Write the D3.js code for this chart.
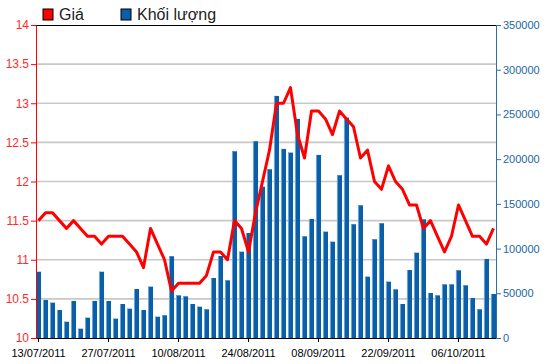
<!DOCTYPE html>
<html>
<head>
<meta charset="utf-8">
<script src="https://cdn.jsdelivr.net/npm/d3@7"></script>
<style>
  body { margin: 0; background: #fff; }
  svg { display: block; font-family: Arial, "Liberation Sans", sans-serif; }
</style>
</head>
<body>
<svg id="chart" width="550" height="364"></svg>
<script>
// ── data ─────────────────────────────────────────────
const dates = [
  "13/07/2011","14/07/2011","15/07/2011","18/07/2011","19/07/2011","20/07/2011","21/07/2011","22/07/2011","25/07/2011","26/07/2011",
  "27/07/2011","28/07/2011","29/07/2011","01/08/2011","02/08/2011","03/08/2011","04/08/2011","05/08/2011","08/08/2011","09/08/2011",
  "10/08/2011","11/08/2011","12/08/2011","15/08/2011","16/08/2011","17/08/2011","18/08/2011","19/08/2011","22/08/2011","23/08/2011",
  "24/08/2011","25/08/2011","26/08/2011","29/08/2011","30/08/2011","31/08/2011","01/09/2011","05/09/2011","06/09/2011","07/09/2011",
  "08/09/2011","09/09/2011","12/09/2011","13/09/2011","14/09/2011","15/09/2011","16/09/2011","19/09/2011","20/09/2011","21/09/2011",
  "22/09/2011","23/09/2011","26/09/2011","27/09/2011","28/09/2011","29/09/2011","30/09/2011","03/10/2011","04/10/2011","05/10/2011",
  "06/10/2011","07/10/2011","10/10/2011","11/10/2011","12/10/2011","13/10/2011"
];
const price = [
  11.5, 11.6, 11.6, 11.5, 11.4, 11.5, 11.4, 11.3, 11.3, 11.2,
  11.3, 11.3, 11.3, 11.2, 11.1, 10.9, 11.4, 11.2, 11.0, 10.6,
  10.7, 10.7, 10.7, 10.7, 10.8, 11.1, 11.1, 11.0, 11.5, 11.4,
  11.1, 11.6, 12.0, 12.4, 13.0, 13.0, 13.2, 12.6, 12.3, 12.9,
  12.9, 12.8, 12.6, 12.9, 12.8, 12.7, 12.3, 12.4, 12.0, 11.9,
  12.2, 12.0, 11.9, 11.7, 11.7, 11.4, 11.5, 11.3, 11.1, 11.3,
  11.7, 11.5, 11.3, 11.3, 11.2, 11.4
];
const volume = [
  74100, 42500, 39500, 31300, 18200, 41400, 10400, 22700, 41400, 74100,
  41400, 21600, 38000, 32800, 54800, 31300, 57400, 23800, 25400, 91400,
  47700, 46600, 38000, 35000, 32100, 67100, 91700, 64500, 208800, 96500,
  117400, 220000, 169200, 188700, 270700, 211400, 207300, 245000, 113700, 133100,
  204700, 118900, 107700, 182000, 246400, 127200, 148400, 68600, 110400, 128300,
  63000, 54400, 38000, 76000, 95400, 132700, 50300, 47700, 60000, 60000,
  75700, 58900, 44700, 32100, 88400, 49200
];
const xTickLabels = ["13/07/2011","27/07/2011","10/08/2011","24/08/2011","08/09/2011","22/09/2011","06/10/2011"];
const priceTicks  = [10, 10.5, 11, 11.5, 12, 12.5, 13, 13.5, 14];
const volumeTicks = [0, 50000, 100000, 150000, 200000, 250000, 300000, 350000];
const legendItems = [
  { label: "Giá",        color: "#ff0000" },
  { label: "Khối lượng", color: "#0a5fa8" }
];

// ── layout ───────────────────────────────────────────
const L = 36, R = 496, T = 25, B = 338;
const RED = "#ff0000", BLUE = "#0a5fa8", AXIS_BLUE = "#2f6fa8";
const FONT = "Arial, 'Liberation Sans', sans-serif";

const svg = d3.select("#chart");

const x  = d3.scaleBand().domain(dates).range([L, R]).paddingInner(0.28);
const yP = d3.scaleLinear().domain([10, 14]).range([B, T]);
const yV = d3.scaleLinear().domain([0, 350000]).range([B, T]);

// gridlines
svg.append("g").selectAll("line")
  .data(priceTicks.filter(d => d > 10 && d < 14))
  .join("line")
  .attr("x1", L).attr("x2", R)
  .attr("y1", d => yP(d)).attr("y2", d => yP(d))
  .attr("stroke", "#c8c8c8").attr("stroke-width", 1.6);

// top border
svg.append("line").attr("x1", L).attr("x2", R).attr("y1", T + 0.5).attr("y2", T + 0.5)
  .attr("stroke", "#000").attr("stroke-width", 1);

// volume bars
const bars = svg.append("g");
bars.selectAll("rect.bar")
  .data(volume)
  .join("rect")
  .attr("class", "bar")
  .attr("x", (d, i) => x(dates[i]))
  .attr("width", x.bandwidth())
  .attr("y", d => yV(d))
  .attr("height", d => B - yV(d))
  .attr("fill", BLUE);
// light edge on each bar
bars.selectAll("line.edge")
  .data(volume)
  .join("line")
  .attr("class", "edge")
  .attr("x1", (d, i) => x(dates[i]) + 0.5).attr("x2", (d, i) => x(dates[i]) + 0.5)
  .attr("y1", d => yV(d)).attr("y2", B)
  .attr("stroke", "#6ea6dc").attr("stroke-width", 1);

// price line
const line = d3.line()
  .x((d, i) => x(dates[i]) + x.bandwidth() / 2)
  .y(d => yP(d));
svg.append("path")
  .datum(price)
  .attr("d", line)
  .attr("fill", "none")
  .attr("stroke", RED)
  .attr("stroke-width", 3)
  .attr("stroke-linejoin", "round");

// x axis
const xAxis = d3.axisBottom(x).tickValues(xTickLabels).tickSize(4).tickSizeOuter(0);
const gx = svg.append("g").attr("transform", `translate(0,${B})`).call(xAxis);
gx.select(".domain").attr("stroke", "#000");
gx.selectAll(".tick line").attr("stroke", "#000");
gx.selectAll(".tick text").attr("fill", "#000").attr("font-size", 11).attr("dy", "1.05em")
  .attr("font-family", FONT);

// left axis (price)
const gl = svg.append("g").attr("transform", `translate(${L},0)`)
  .call(d3.axisLeft(yP).tickValues(priceTicks).tickFormat(d => String(d)).tickSize(5).tickSizeOuter(0));
gl.select(".domain").attr("stroke", RED);
gl.selectAll(".tick line").attr("stroke", RED);
gl.selectAll(".tick text").attr("fill", "#ff2a2a").attr("font-size", 12).attr("x", -7)
  .attr("font-family", FONT);

// right axis (volume)
const gr = svg.append("g").attr("transform", `translate(${R},0)`)
  .call(d3.axisRight(yV).tickValues(volumeTicks).tickFormat(d3.format("d")).tickSize(5).tickSizeOuter(0));
gr.select(".domain").attr("stroke", AXIS_BLUE);
gr.selectAll(".tick line").attr("stroke", AXIS_BLUE);
gr.selectAll(".tick text").attr("fill", "#22679f").attr("font-size", 11).attr("x", 7)
  .attr("font-family", FONT);

// legend
const legendX = [43, 121];
const lg = svg.append("g").selectAll("g")
  .data(legendItems)
  .join("g")
  .attr("transform", (d, i) => `translate(${legendX[i]},9)`);
lg.append("rect")
  .attr("width", 10).attr("height", 11)
  .attr("fill", d => d.color)
  .attr("stroke", "#000").attr("stroke-width", 1);
lg.append("text")
  .attr("x", 16).attr("y", 11)
  .attr("font-size", 16)
  .attr("fill", "#222")
  .text(d => d.label);
</script>
</body>
</html>
